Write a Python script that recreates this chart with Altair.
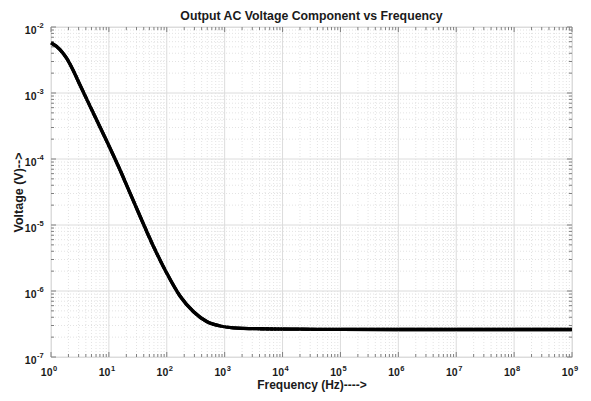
import altair as alt
import pandas as pd

# ---- data ----
freq_hz = [1.0, 1.43, 1.87, 2.40, 3.17, 5.38, 9.16, 15.6, 23.1, 34.4, 58.4, 99.6,
           169, 287, 489, 830, 1409, 4074, 2.0e4, 1e5, 1e6, 1e7, 1e8, 1e9]
voltage_v = [5.78e-3, 4.56e-3, 3.34e-3, 2.23e-3, 1.32e-3, 4.98e-4, 1.87e-4, 6.81e-5,
             3.06e-5, 1.37e-5, 4.81e-6, 1.87e-6, 8.40e-7, 4.89e-7, 3.45e-7, 2.95e-7,
             2.77e-7, 2.68e-7, 2.64e-7, 2.62e-7, 2.61e-7, 2.61e-7, 2.61e-7, 2.61e-7]

x_exponents = list(range(0, 10))     # 10^0 .. 10^9
y_exponents = list(range(-7, -1))    # 10^-7 .. 10^-2

chart_title = "Output AC Voltage Component vs Frequency"
x_title = "Frequency (Hz)---->"
y_title = "Voltage (V)-->"

# ---- tick tables ----
x_major = [10.0 ** e for e in x_exponents]
x_minor = [m * 10.0 ** e for e in x_exponents[:-1] for m in range(2, 10)]
y_major = [10.0 ** e for e in y_exponents]
y_minor = [m * 10.0 ** e for e in y_exponents[:-1] for m in range(2, 10)]

curve = pd.DataFrame({"f": freq_hz, "v": voltage_v})
xmaj = pd.DataFrame({"f": x_major, "t": [str(e) for e in x_exponents]})
xmin = pd.DataFrame({"f": x_minor})
ymaj = pd.DataFrame({"v": y_major, "t": [str(e) for e in y_exponents]})
ymin = pd.DataFrame({"v": y_minor})
titles = pd.DataFrame({"t": [chart_title]})

W, H = 521, 330
FONT = "Liberation Sans"
AXIS_COLOR = "#808080"
TEXT_COLOR = "#1a1a1a"

xs = alt.Scale(type="log", domain=[1, 1e9], nice=False)
ys = alt.Scale(type="log", domain=[1e-7, 1e-2], nice=False)

x_axis = alt.Axis(
    values=x_major, labelExpr="'10'", grid=False, ticks=False, tickSize=0, domain=False,
    labelFont=FONT, labelFontSize=10.5, labelFontWeight="bold", labelColor=TEXT_COLOR,
    labelAlign="right", labelBaseline="top", labelOffset=1, labelPadding=10,
    title=x_title, titleFont=FONT, titleFontSize=12, titleFontWeight="bold",
    titleColor=TEXT_COLOR, titleX=W / 2, titleY=31, titleBaseline="alphabetic",
    titleAlign="center", labelFlush=False, labelOverlap=False,
)
y_axis = alt.Axis(
    values=y_major, labelExpr="'10'", grid=False, ticks=False, tickSize=0, domain=False,
    labelFont=FONT, labelFontSize=10.5, labelFontWeight="bold", labelColor=TEXT_COLOR,
    labelAlign="right", labelBaseline="middle", labelOffset=3, labelPadding=15,
    title=y_title, titleFont=FONT, titleFontSize=12.5, titleFontWeight="bold",
    titleColor=TEXT_COLOR, titleX=-29, titleY=H / 2, titleBaseline="alphabetic",
    titleAlign="center", titleAngle=270, labelFlush=False, labelOverlap=False,
)


def xf():
    return alt.X("f:Q", scale=xs, axis=x_axis)


def yf():
    return alt.Y("v:Q", scale=ys, axis=y_axis)


# grids
grid_xmin = alt.Chart(xmin).mark_rule(color="#e3e3e3", strokeDash=[1, 2], strokeWidth=1).encode(x=xf())
grid_ymin = alt.Chart(ymin).mark_rule(color="#e3e3e3", strokeDash=[1, 2], strokeWidth=1).encode(y=yf())
grid_xmaj = alt.Chart(xmaj).mark_rule(color="#dcdcdc", strokeWidth=1).encode(x=xf())
grid_ymaj = alt.Chart(ymaj).mark_rule(color="#dcdcdc", strokeWidth=1).encode(y=yf())


# inside ticks on all four sides
def xticks(df, length):
    base = alt.Chart(df).mark_rule(color=AXIS_COLOR, strokeWidth=1)
    return [
        base.encode(x=xf(), y=alt.value(H), y2=alt.value(H - length)),
        base.encode(x=xf(), y=alt.value(0), y2=alt.value(length)),
    ]


def yticks(df, length):
    base = alt.Chart(df).mark_rule(color=AXIS_COLOR, strokeWidth=1)
    return [
        base.encode(y=yf(), x=alt.value(0), x2=alt.value(length)),
        base.encode(y=yf(), x=alt.value(W), x2=alt.value(W - length)),
    ]


tick_layers = xticks(xmin, 3) + xticks(xmaj, 5) + yticks(ymin, 3) + yticks(ymaj, 5)

line = alt.Chart(curve).mark_line(color="black", strokeWidth=3.3, interpolate="monotone").encode(
    x=xf(), y=yf()
)

x_exp = alt.Chart(xmaj).mark_text(
    align="left", baseline="top", font=FONT, fontSize=7.5, fontWeight="bold",
    color=TEXT_COLOR, dx=2,
).encode(x=xf(), y=alt.value(H + 8), text="t:N")

y_exp = alt.Chart(ymaj).mark_text(
    align="left", baseline="alphabetic", font=FONT, fontSize=7.5, fontWeight="bold",
    color=TEXT_COLOR, dy=1,
).encode(y=yf(), x=alt.value(-14), text="t:N")

title_mark = alt.Chart(titles).mark_text(
    align="center", baseline="alphabetic", font=FONT, fontSize=12.3, fontWeight="bold",
    color=TEXT_COLOR,
).encode(x=alt.value(W / 2), y=alt.value(-7), text="t:N")

chart = alt.layer(
    line, grid_xmin, grid_ymin, grid_xmaj, grid_ymaj, *tick_layers, line, x_exp, y_exp, title_mark
).properties(
    width=W, height=H,
    autosize=alt.AutoSizeParams(type="none"),
    padding={"left": 51, "top": 27, "right": 19, "bottom": 44},
).configure_view(stroke=AXIS_COLOR, strokeWidth=1).configure(background="white")

chart.save("out.html", embed_options={"renderer": "svg", "actions": False})
